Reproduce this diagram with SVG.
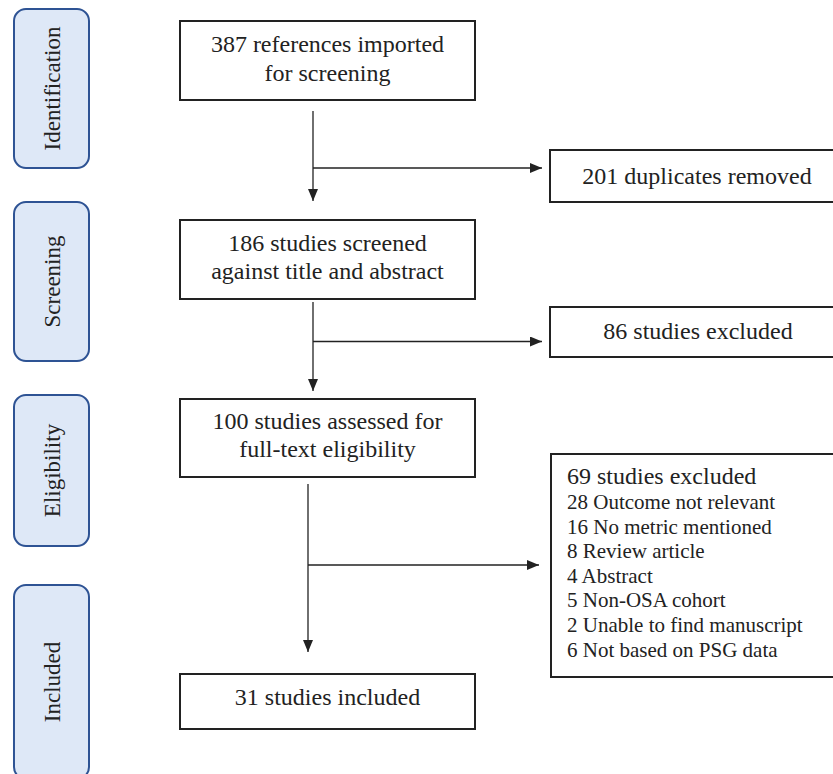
<svg xmlns="http://www.w3.org/2000/svg" width="833" height="774" viewBox="0 0 833 774" font-family="'Liberation Serif', 'DejaVu Serif', serif">
<style>
.phase rect{fill:#dee8f7;stroke:#2e5394;stroke-width:2}
.phase text{font-size:23px;fill:#222;text-anchor:middle}
.box rect{fill:#fff;stroke:#222;stroke-width:2}
.box text{font-size:24px;fill:#222;text-anchor:middle}
.box text.l{text-anchor:start}
.box text.s{font-size:21px;text-anchor:start}
.conn line{stroke:#222;stroke-width:1.3;fill:none}
.conn line.a{marker-end:url(#ah)}
</style>
<defs>
<marker id="ah" markerUnits="userSpaceOnUse" markerWidth="12" markerHeight="10" refX="12" refY="5" orient="auto">
<path d="M0,0 L12,5 L0,10 z" fill="#222"/>
</marker>
</defs>
<g id="phase-identification" class="phase"><rect x="14" y="9" width="75" height="159" rx="12"/><text transform="translate(60,88.5) rotate(-90)">Identification</text></g>
<g id="phase-screening" class="phase"><rect x="14" y="202" width="75" height="159" rx="12"/><text transform="translate(60,281.5) rotate(-90)">Screening</text></g>
<g id="phase-eligibility" class="phase"><rect x="14" y="395" width="75" height="151" rx="12"/><text transform="translate(60,470.5) rotate(-90)">Eligibility</text></g>
<g id="phase-included" class="phase"><rect x="14" y="585" width="75" height="194" rx="12"/><text transform="translate(60,682) rotate(-90)">Included</text></g>

<g id="n-imported" class="box"><rect x="180" y="21" width="295" height="79"/><text x="327.5" y="52">387 references imported</text><text x="327.5" y="81">for screening</text></g>
<g id="n-duplicates" class="box"><rect x="550" y="150" width="290" height="52"/><text x="697" y="184">201 duplicates removed</text></g>
<g id="n-screened" class="box"><rect x="180" y="220" width="295" height="79"/><text x="327.5" y="251">186 studies screened</text><text x="327.5" y="279">against title and abstract</text></g>
<g id="n-excluded86" class="box"><rect x="550" y="307" width="290" height="50"/><text x="698" y="339">86 studies excluded</text></g>
<g id="n-assessed" class="box"><rect x="180" y="399" width="295" height="78"/><text x="327.5" y="429">100 studies assessed for</text><text x="327.5" y="457">full-text eligibility</text></g>
<g id="n-excluded69" class="box"><rect x="551" y="454" width="290" height="223"/>
<text class="l" x="567" y="484">69 studies excluded</text>
<text class="s" x="567" y="509">28 Outcome not relevant</text>
<text class="s" x="567" y="534">16 No metric mentioned</text>
<text class="s" x="567" y="558">8 Review article</text>
<text class="s" x="567" y="583">4 Abstract</text>
<text class="s" x="567" y="607">5 Non-OSA cohort</text>
<text class="s" x="567" y="632">2 Unable to find manuscript</text>
<text class="s" x="567" y="657">6 Not based on PSG data</text>
</g>
<g id="n-included" class="box"><rect x="180" y="674" width="295" height="55"/><text x="327.5" y="705">31 studies included</text></g>

<g id="connectors" class="conn">
<line class="a" x1="313" y1="111" x2="313" y2="201"/>
<line class="a" x1="313" y1="168" x2="542" y2="168"/>
<line class="a" x1="313" y1="302" x2="313" y2="391"/>
<line class="a" x1="313" y1="341.5" x2="542" y2="341.5"/>
<line class="a" x1="308" y1="484" x2="308" y2="652"/>
<line class="a" x1="308" y1="565" x2="539" y2="565"/>
</g>
</svg>
